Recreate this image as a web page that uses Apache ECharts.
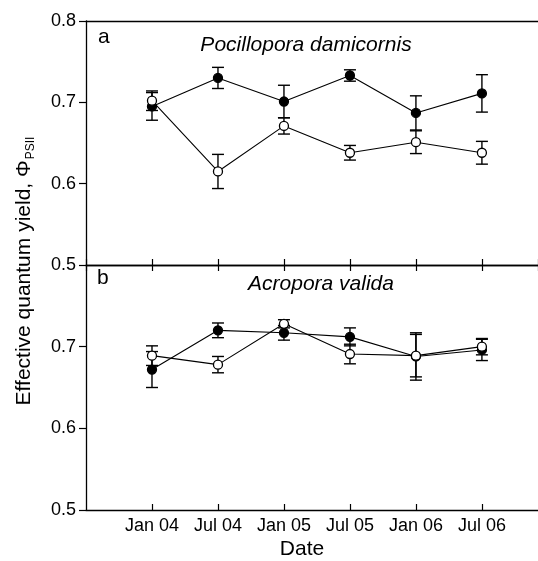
<!DOCTYPE html>
<html>
<head>
<meta charset="utf-8">
<script src="https://cdn.jsdelivr.net/npm/echarts@6/dist/echarts.min.js"></script>
<style>
  html, body { margin: 0; padding: 0; background: #fff; }
  #chart { width: 538px; height: 561px; }
</style>
</head>
<body>
<div id="chart"></div>
<script>
// sampling dates
var dates = ['Jan 04', 'Jul 04', 'Jan 05', 'Jul 05', 'Jan 06', 'Jul 06'];

// a) Pocillopora damicornis
var pdFilled = [0.695, 0.730, 0.701, 0.733, 0.687, 0.711];
var pdFilledErr = [0.017, 0.013, 0.020, 0.007, 0.021, 0.023];
var pdOpen = [0.702, 0.615, 0.671, 0.638, 0.651, 0.638];
var pdOpenErr = [0.012, 0.021, 0.010, 0.009, 0.014, 0.014];

// b) Acropora valida
var avFilled = [0.672, 0.720, 0.717, 0.712, 0.688, 0.696];
var avFilledErr = [0.022, 0.009, 0.009, 0.011, 0.029, 0.013];
var avOpen = [0.689, 0.678, 0.728, 0.691, 0.689, 0.700];
var avOpenErr = [0.012, 0.010, 0.005, 0.012, 0.026, 0.010];

var FONT = 'Arial, "Liberation Sans", sans-serif';

function pts(vals) {
  return vals.map(function (v, i) { return [i, v]; });
}
function errs(vals, e) {
  return vals.map(function (v, i) { return [i, v - e[i], v + e[i]]; });
}

function errRender(params, api) {
  var x = api.value(0);
  var lo = api.coord([x, api.value(1)]);
  var hi = api.coord([x, api.value(2)]);
  var w = 6;
  var st = { stroke: '#000', lineWidth: 1.4 };
  return {
    type: 'group',
    children: [
      { type: 'line', shape: { x1: lo[0], y1: lo[1], x2: hi[0], y2: hi[1] }, style: st },
      { type: 'line', shape: { x1: lo[0] - w, y1: lo[1], x2: lo[0] + w, y2: lo[1] }, style: st },
      { type: 'line', shape: { x1: hi[0] - w, y1: hi[1], x2: hi[0] + w, y2: hi[1] }, style: st }
    ]
  };
}

function xAx(grid, pos, opts) {
  var base = {
    type: 'value',
    gridIndex: grid,
    position: pos,
    min: -1,
    max: 5.85,
    interval: 1,
    splitLine: { show: false },
    axisLine: { show: true, onZero: false, lineStyle: { color: '#000', width: 1.3 } },
    axisTick: { show: false },
    axisLabel: { show: false }
  };
  return Object.assign(base, opts || {});
}

function yAx(grid, showMax) {
  return {
    type: 'value',
    gridIndex: grid,
    min: 0.5,
    max: 0.8,
    interval: 0.1,
    splitLine: { show: false },
    axisLine: { show: true, onZero: false, lineStyle: { color: '#000', width: 1.3 } },
    axisTick: { show: true, inside: false, length: 7, lineStyle: { color: '#000', width: 1.2 } },
    axisLabel: {
      showMaxLabel: showMax,
      margin: 10,
      color: '#000',
      fontSize: 18,
      fontFamily: FONT,
      formatter: function (v) { return v.toFixed(1); }
    }
  };
}

var insideTicks = { show: true, inside: true, length: 6, lineStyle: { color: '#000', width: 1.2 } };

function lineSeries(xi, yi, vals, filled, z) {
  return {
    type: 'line',
    xAxisIndex: xi,
    yAxisIndex: yi,
    data: pts(vals),
    symbol: 'circle',
    symbolSize: 9,
    z: z,
    lineStyle: { color: '#000', width: 1.1 },
    itemStyle: { color: filled ? '#000' : '#fff', borderColor: '#000', borderWidth: 1.3 },
    emphasis: { disabled: true },
    animation: false
  };
}

function errSeries(xi, yi, vals, e) {
  return {
    type: 'custom',
    xAxisIndex: xi,
    yAxisIndex: yi,
    data: errs(vals, e),
    encode: { x: 0, y: [1, 2] },
    renderItem: errRender,
    z: 1,
    animation: false
  };
}

var chart = echarts.init(document.getElementById('chart'));
chart.setOption({
  animation: false,
  grid: [
    { left: 86, right: 0, top: 21, height: 244 },
    { left: 86, right: 0, top: 265, height: 245 }
  ],
  xAxis: [
    xAx(0, 'bottom', { axisTick: insideTicks }),
    xAx(0, 'top'),
    xAx(1, 'bottom', {
      axisTick: insideTicks,
      axisLabel: {
        show: true,
        margin: 7,
        color: '#000',
        fontSize: 18,
        fontFamily: FONT,
        showMinLabel: false,
        showMaxLabel: false,
        formatter: function (v) { return dates[v] !== undefined ? dates[v] : ''; }
      }
    }),
    xAx(1, 'top', { axisTick: insideTicks })
  ],
  yAxis: [yAx(0, true), yAx(1, false)],
  graphic: [
    { type: 'text', left: 98, top: 27, style: { text: 'a', font: '21px ' + FONT, fill: '#000' } },
    { type: 'text', x: 306, y: 45, style: { text: 'Pocillopora damicornis', font: 'italic 21px ' + FONT, fill: '#000', textAlign: 'center', textVerticalAlign: 'middle' } },
    { type: 'text', left: 97, top: 268, style: { text: 'b', font: '21px ' + FONT, fill: '#000' } },
    { type: 'text', x: 321, y: 284, style: { text: 'Acropora valida', font: 'italic 21px ' + FONT, fill: '#000', textAlign: 'center', textVerticalAlign: 'middle' } },
    { type: 'text', x: 302, y: 549, style: { text: 'Date', font: '21px ' + FONT, fill: '#000', textAlign: 'center', textVerticalAlign: 'middle' } },
    {
      type: 'text', x: 24, y: 271, rotation: Math.PI / 2,
      style: {
        text: '{a|Effective quantum yield, Φ}{s|PSII}',
        textAlign: 'center', textVerticalAlign: 'middle',
        fill: '#000',
        rich: {
          a: { fontSize: 21, fontFamily: FONT, fill: '#000', lineHeight: 26 },
          s: { fontSize: 12, fontFamily: FONT, fill: '#000', verticalAlign: 'bottom', padding: [9, 0, 0, 1], lineHeight: 26 }
        }
      }
    }
  ],
  series: [
    errSeries(0, 0, pdFilled, pdFilledErr),
    errSeries(0, 0, pdOpen, pdOpenErr),
    lineSeries(0, 0, pdFilled, true, 3),
    lineSeries(0, 0, pdOpen, false, 4),
    errSeries(2, 1, avFilled, avFilledErr),
    errSeries(2, 1, avOpen, avOpenErr),
    lineSeries(2, 1, avFilled, true, 3),
    lineSeries(2, 1, avOpen, false, 4)
  ]
});
</script>
</body>
</html>
